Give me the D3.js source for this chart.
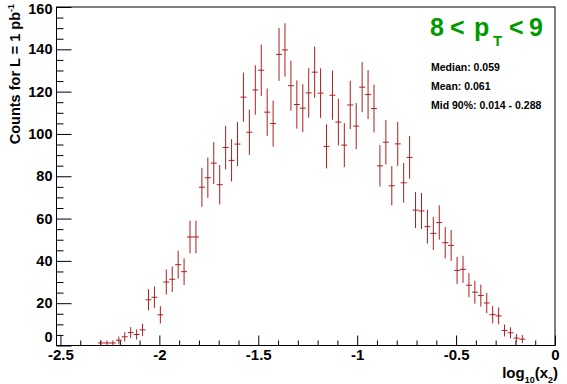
<!DOCTYPE html>
<html>
<head>
<meta charset="utf-8">
<script src="https://cdn.jsdelivr.net/npm/d3@7"></script>
<style>
  body { margin: 0; background: #fff; }
  text { font-family: "Liberation Sans", Arial, Helvetica, sans-serif; font-weight: bold; }
</style>
</head>
<body>
<div id="chart"></div>
<script>
// Bin centres of the log10(x2) histogram (width 0.03).
const binCenters = [
  -2.295, -2.265, -2.235, -2.205, -2.175, -2.145, -2.115, -2.085, -2.055, -2.025,
  -1.995, -1.965, -1.935, -1.905, -1.875, -1.845, -1.815, -1.785, -1.755, -1.725,
  -1.695, -1.665, -1.635, -1.605, -1.575, -1.545, -1.515, -1.485, -1.455, -1.425,
  -1.395, -1.365, -1.335, -1.305, -1.275, -1.245, -1.215, -1.185, -1.155, -1.125,
  -1.095, -1.065, -1.035, -1.005, -0.975, -0.945, -0.915, -0.885, -0.855, -0.825,
  -0.795, -0.765, -0.735, -0.705, -0.675, -0.645, -0.615, -0.585, -0.555, -0.525,
  -0.495, -0.465, -0.435, -0.405, -0.375, -0.345, -0.315, -0.285, -0.255, -0.225,
  -0.195, -0.165
];
const binWidth = 0.03;

// Counts for L = 1 pb^-1 in each bin.
const counts = [
  1.2, 1.2, 1.2, 2.5, 4.1, 6.1, 5.2, 7.4, 21.6, 22.8,
  14.5, 30.0, 31.3, 38.2, 34.9, 51.3, 51.3, 74.8, 79.3, 86.2,
  76.0, 93.6, 87.5, 95.2, 117.4, 100.8, 120.8, 130.1, 110.3, 104.9,
  137.6, 139.7, 122.8, 113.9, 112.2, 119.4, 129.2, 119.3, 94.1, 118.3,
  105.6, 94.7, 113.7, 103.7, 122.1, 118.6, 112.0, 84.9, 96.1, 75.5,
  95.3, 76.9, 88.9, 64.0, 63.6, 56.2, 53.0, 58.1, 48.6, 47.3,
  35.5, 36.0, 28.5, 25.2, 23.6, 20.1, 14.6, 14.0, 7.1, 6.0,
  3.5, 3.0
];

// Vertical error in each bin.
const errors = [
  1.2, 1.2, 1.2, 1.7, 2.2, 2.6, 2.4, 2.9, 5.0, 5.1,
  4.1, 5.9, 6.0, 6.6, 6.3, 7.7, 7.7, 9.2, 9.5, 9.9,
  9.3, 10.3, 10.0, 10.4, 11.6, 10.7, 11.7, 12.2, 11.2, 10.9,
  12.5, 12.6, 11.8, 11.4, 11.3, 11.7, 12.1, 11.7, 10.4, 11.6,
  11.0, 10.4, 11.4, 10.9, 11.8, 11.6, 11.3, 9.8, 10.5, 9.3,
  10.4, 9.4, 10.1, 8.5, 8.5, 8.0, 7.8, 8.1, 7.4, 7.3,
  6.4, 6.4, 5.7, 5.4, 5.2, 4.8, 4.1, 4.0, 2.8, 2.6,
  2.0, 1.9
];

const xMajorTicks = [-2.5, -2, -1.5, -1, -0.5, 0];
const yMajorTicks = [0, 20, 40, 60, 80, 100, 120, 140, 160];
const statLines = ["Median: 0.059", "Mean: 0.061", "Mid 90%: 0.014 - 0.288"];

document.addEventListener("DOMContentLoaded", function () {
  const width = 567,
    height = 384;

  const svg = d3
    .select("#chart")
    .append("svg")
    .attr("width", width)
    .attr("height", height);

  // Frame edges in pixels.
  const left = 56.5,
    right = 555,
    top = 7,
    bottom = 345.5;

  const x = d3.scaleLinear().domain([-2.52, 0]).range([left, right]);
  const y = d3.scaleLinear().domain([0, 160]).range([bottom, top]);

  const data = binCenters.map((c, i) => ({ c: c, v: counts[i], e: errors[i] }));

  // Minor and major ticks, drawn inward like ROOT.
  const xMinor = d3.range(-25, 1).map((d) => d / 10).filter((d) => !xMajorTicks.includes(d));
  const yMinor = d3.range(0, 161, 5).filter((d) => !yMajorTicks.includes(d));

  svg
    .append("g")
    .attr("transform", `translate(0,${bottom})`)
    .call(d3.axisBottom(x).tickValues(xMinor).tickSize(-5).tickFormat(""))
    .call((g) => g.select(".domain").remove());

  svg
    .append("g")
    .attr("transform", `translate(0,${bottom})`)
    .call(
      d3
        .axisBottom(x)
        .tickValues(xMajorTicks)
        .tickSize(-10)
        .tickPadding(4)
        .tickFormat((d) => String(d))
    )
    .call((g) => g.select(".domain").remove())
    .call((g) => g.selectAll("text").attr("font-size", 15).attr("fill", "#000"));

  svg
    .append("g")
    .attr("transform", `translate(${left},0)`)
    .call(d3.axisLeft(y).tickValues(yMinor).tickSize(-7).tickFormat(""))
    .call((g) => g.select(".domain").remove());

  svg
    .append("g")
    .attr("transform", `translate(${left},0)`)
    .call(
      d3
        .axisLeft(y)
        .tickValues(yMajorTicks)
        .tickSize(-15)
        .tickPadding(4)
        .tickFormat((d) => String(d))
    )
    .call((g) => g.select(".domain").remove())
    .call((g) => g.selectAll("text").attr("font-size", 14.5).attr("fill", "#000"))
    // Nudge the end labels so they stay clear of the edge and of "-2.5".
    .call((g) => g.selectAll("text").filter((d) => d === 0).attr("dy", "-0.25em"))
    .call((g) => g.selectAll("text").filter((d) => d === 160).attr("dy", "0.45em"));

  svg.selectAll(".tick line").attr("stroke", "#000").attr("stroke-width", 1);

  // Frame.
  svg
    .append("rect")
    .attr("x", left)
    .attr("y", top)
    .attr("width", right - left)
    .attr("height", bottom - top)
    .attr("fill", "none")
    .attr("stroke", "#000")
    .attr("stroke-width", 1);

  // Error bars: vertical error plus horizontal bin width.
  const marks = svg.append("g").attr("stroke", "#a82020").attr("stroke-width", 1);

  marks
    .selectAll("line.v")
    .data(data)
    .enter()
    .append("line")
    .attr("class", "v")
    .attr("x1", (d) => x(d.c))
    .attr("x2", (d) => x(d.c))
    .attr("y1", (d) => y(d.v - d.e))
    .attr("y2", (d) => y(d.v + d.e));

  marks
    .selectAll("line.h")
    .data(data)
    .enter()
    .append("line")
    .attr("class", "h")
    .attr("x1", (d) => x(d.c - binWidth / 2))
    .attr("x2", (d) => x(d.c + binWidth / 2))
    .attr("y1", (d) => y(d.v))
    .attr("y2", (d) => y(d.v));

  // Axis titles.
  const yTitle = svg
    .append("text")
    .attr("transform", "translate(19.5,4) rotate(-90)")
    .attr("text-anchor", "end")
    .attr("font-size", 14.5);
  yTitle.append("tspan").text("Counts for L = 1 pb");
  yTitle.append("tspan").attr("font-size", 9).attr("dy", -6).text("-1");

  const xTitle = svg
    .append("text")
    .attr("x", 558)
    .attr("y", 378)
    .attr("text-anchor", "end")
    .attr("font-size", 15);
  xTitle.append("tspan").text("log");
  xTitle.append("tspan").attr("font-size", 9).attr("dy", 5).text("10");
  xTitle.append("tspan").attr("dy", -5).text("(x");
  xTitle.append("tspan").attr("font-size", 9).attr("dy", 5).text("2");
  xTitle.append("tspan").attr("dy", -5).text(")");

  // pT range label.
  const title = svg
    .append("text")
    .attr("y", 36)
    .attr("font-size", 25)
    .attr("fill", "#009a00");
  title.append("tspan").attr("x", 430).text("8");
  title.append("tspan").attr("x", 450).text("<");
  title.append("tspan").attr("x", 474).text("p");
  title.append("tspan").attr("x", 493).attr("dy", 10).attr("font-size", 15).text("T");
  title.append("tspan").attr("x", 509).attr("dy", -10).text("<");
  title.append("tspan").attr("x", 529).text("9");

  // Summary statistics.
  svg
    .selectAll("text.stat")
    .data(statLines)
    .enter()
    .append("text")
    .attr("class", "stat")
    .attr("x", 431)
    .attr("y", (d, i) => 71 + i * 19)
    .attr("font-size", 10.5)
    .attr("fill", "#000")
    .text((d) => d);
});
</script>
</body>
</html>
